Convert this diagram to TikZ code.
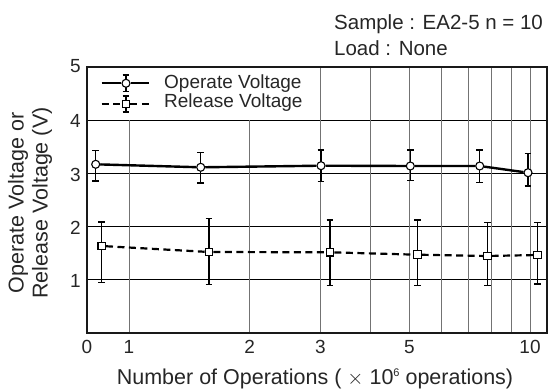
\documentclass[tikz,border=0pt]{standalone}
\usepackage{fontspec}
\setmainfont{Liberation Sans}
\begin{document}
\begin{tikzpicture}[x=1pt,y=-1pt,
  lbl/.style={font=\fontsize{19}{22}\selectfont, text=black!85, inner sep=0pt},
  biglbl/.style={font=\fontsize{21.5}{24}\selectfont, text=black!85, inner sep=0pt},
  toplbl/.style={font=\fontsize{20.5}{24}\selectfont, text=black!85, inner sep=0pt},
  hgrid/.style={line width=0.7pt, black},
  vgrid/.style={line width=0.8pt, black!55},
  frame/.style={line width=1.3pt, black!90},
  ebar/.style={line width=1.1pt, black},
  opline/.style={line width=2.4pt, black},
  reline/.style={line width=2.2pt, black, dash pattern=on 7pt off 4.5pt},
  opmark/.style={circle, draw=black, line width=1.1pt, fill=white, minimum size=8pt, inner sep=0pt},
  remark/.style={rectangle, draw=black, line width=1.1pt, fill=white, minimum size=7.5pt, inner sep=0pt}
]
\useasboundingbox (0,0) rectangle (549,390);
\newcommand{\errbarv}[3]{\draw[ebar] (#1,#2) -- (#1,#3) (#1-3.3,#2) -- (#1+3.3,#2) (#1-3.3,#3) -- (#1+3.3,#3);}
% horizontal grid
\foreach \v/\yy in {4/120.2,3/173.4,2/226.6,1/279.8} \draw[hgrid] (87,\yy) -- (547,\yy);
% vertical grid
\foreach \xx in {129,249.7} \draw[vgrid] (\xx,333) -- (\xx,120.2);
\foreach \xx in {320.3,370.4,409.3,441,467.9,491.1,511.6,530} \draw[vgrid] (\xx,333) -- (\xx,67);
\draw[frame] (87,67) rectangle (547,333);
% y tick labels
\foreach \v/\yy in {5/66,4/121,3/174.5,2/227.5,1/280.5} \node[lbl, anchor=east] (yl\v) at (81,\yy) {\v};
% x tick labels
\foreach \t/\xx in {0/87,1/129,2/249.7,3/320.3,5/409.3,10/530} \node[lbl, anchor=base] (xl\t) at (\xx,353) {\t};
% titles
\node[biglbl, anchor=base] (xtitle) at (315,384) {Number of Operations ( $\times$ 10\raisebox{0.7ex}{\fontsize{11}{12}\selectfont 6} operations)};
\node[biglbl, rotate=90, align=center] (ytitle) at (30,203) {Operate Voltage or\\Release Voltage (V)};
\node[toplbl, anchor=base west] (sample) at (334,29.8) {Sample : EA2-5 n = 10};
\node[toplbl, anchor=base west] (load) at (334,56) {Load : None};
% error bars
\errbarv{95.7}{150.7}{181}
\errbarv{200.7}{152.7}{183}
\errbarv{321}{150}{181.3}
\errbarv{410.3}{150}{180.7}
\errbarv{479.7}{150}{182.7}
\errbarv{528}{153.3}{186}
\errbarv{101.7}{222}{282.7}
\errbarv{209}{218.3}{284.7}
\errbarv{330}{220}{285.3}
\errbarv{417.3}{220}{285.3}
\errbarv{487.3}{222.7}{285.3}
\errbarv{537.3}{222.3}{284}
% legend
\errbarv{126}{75}{91.5}
\errbarv{126}{96}{112}
\coordinate (la) at (101.7,83.3);
\coordinate (lb) at (149.3,83.3);
\coordinate (lc) at (101.7,104);
\coordinate (ld) at (149.3,104);
\node[opmark] (lo) at (126,83.3) {};
\node[remark] (lr) at (126,104) {};
\draw[opline] (la) -- (lo) -- (lb);
\draw[reline] (lc) -- (lr) -- (ld);
\node[lbl, anchor=west] (lotext) at (164,83.3) {Operate Voltage};
\node[lbl, anchor=west] (lrtext) at (164,103) {Release Voltage};
% data points
\node[opmark] (o1) at (95.7,164.3) {};
\node[opmark] (o2) at (200.7,167.3) {};
\node[opmark] (o3) at (321,165.7) {};
\node[opmark] (o4) at (410.3,166) {};
\node[opmark] (o5) at (479.7,166) {};
\node[opmark] (o6) at (528,172.7) {};
\node[remark] (r1) at (101.7,246) {};
\node[remark] (r2) at (209,252) {};
\node[remark] (r3) at (330,252.3) {};
\node[remark] (r4) at (417.3,254.7) {};
\node[remark] (r5) at (487.3,256) {};
\node[remark] (r6) at (537.3,255) {};
\draw[opline] (o1) -- (o2) -- (o3) -- (o4) -- (o5) -- (o6);
\draw[reline] (r1) -- (r2) -- (r3) -- (r4) -- (r5) -- (r6);
\end{tikzpicture}
\end{document}
